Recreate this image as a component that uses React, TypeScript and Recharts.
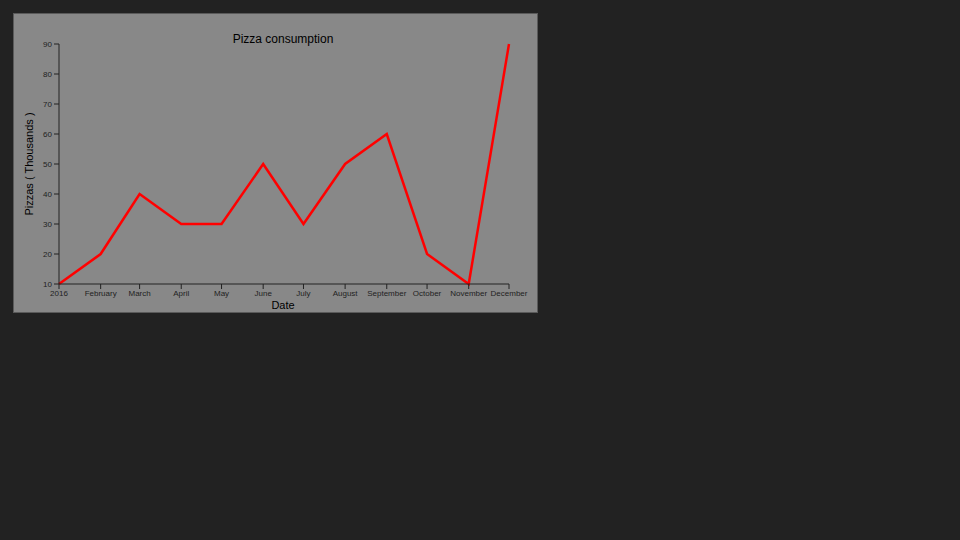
import { LineChart, Line, XAxis, YAxis } from 'recharts';

// months of 2016 and pizzas eaten (thousands)
const months = ['2016', 'February', 'March', 'April', 'May', 'June', 'July', 'August', 'September', 'October', 'November', 'December'];
const pizzas = [10, 20, 40, 30, 30, 50, 30, 50, 60, 20, 10, 90];
const yTicks = [10, 20, 30, 40, 50, 60, 70, 80, 90];

const monthTimes = months.map((_, i) => Date.UTC(2016, i, 1));
const data = months.map((m, i) => ({ date: monthTimes[i], label: m, pizzas: pizzas[i] }));

const font = '"Liberation Sans", Arial, sans-serif';
const tickStyle = { fill: '#222', fontSize: 8, fontFamily: font };

export default function App() {
  return (
    <div style={{ position: 'fixed', inset: 0, background: '#222' }}>
      <div
        style={{
          position: 'absolute',
          left: 13,
          top: 13,
          width: 525,
          height: 300,
          background: '#888',
          boxSizing: 'border-box',
          border: '1px solid #5a5a5a',
          fontFamily: font,
        }}
      >
        <div style={{ position: 'absolute', left: 0, top: 0 }}>
          <LineChart width={523} height={298} data={data} margin={{ top: 30, right: 28, bottom: 0, left: 0 }}>
            <XAxis
              dataKey="date"
              type="number"
              scale="time"
              domain={[monthTimes[0], monthTimes[monthTimes.length - 1]]}
              ticks={monthTimes}
              tickFormatter={(v: number) => months[monthTimes.indexOf(v)]}
              interval={0}
              height={28}
              tick={tickStyle}
              tickSize={5}
              tickMargin={1}
              stroke="#222"
            />
            <YAxis
              domain={[10, 90]}
              ticks={yTicks}
              width={45}
              tick={tickStyle}
              tickSize={5}
              tickMargin={2}
              stroke="#222"
            />
            <Line
              type="linear"
              dataKey="pizzas"
              stroke="#ff0000"
              strokeWidth={2.5}
              dot={false}
              isAnimationActive={false}
            />
          </LineChart>
        </div>
        <div style={{ position: 'absolute', left: 0, width: 538, top: 18, textAlign: 'center', fontSize: 12, color: '#000' }}>
          Pizza consumption
        </div>
        <div style={{ position: 'absolute', left: 0, width: 538, top: 285, textAlign: 'center', fontSize: 11, color: '#000' }}>
          Date
        </div>
        <div
          style={{
            position: 'absolute',
            left: 15,
            top: 150,
            fontSize: 11,
            color: '#000',
            whiteSpace: 'nowrap',
            transform: 'translate(-50%, -50%) rotate(-90deg)',
          }}
        >
          Pizzas ( Thousands )
        </div>
      </div>
    </div>
  );
}
